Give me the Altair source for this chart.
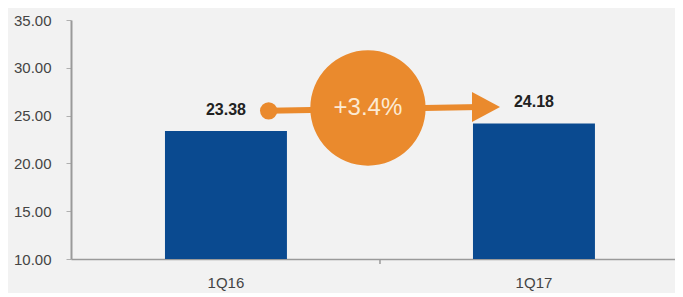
import altair as alt
import pandas as pd

# ---- data ----
quarters = ["1Q16", "1Q17"]
values = [23.38, 24.18]
labels = ["23.38", "24.18"]
y_ticks = [10, 15, 20, 25, 30, 35]
change_text = "+3.4%"
# annotation anchor levels (value-axis units)
arrow_start_y = 25.5
arrow_end_y = 25.9
bubble_y = 25.8

BLUE = "#0A4A90"
ORANGE = "#EA8A2D"
BG = "#F2F2F2"

bars_df = pd.DataFrame({"quarter": quarters, "value": values, "label": labels})
ann_df = pd.DataFrame({
    "from_q": [quarters[0]], "to_q": [quarters[1]],
    "y0": [arrow_start_y], "y1": [arrow_end_y], "yb": [bubble_y],
    "txt": [change_text], "base": [10],
})

xscale = alt.Scale(domain=quarters, paddingInner=0.604, paddingOuter=0.2825, align=0.54)
yscale = alt.Scale(domain=[10, 35], zero=False, nice=False)

x_enc = alt.X("quarter:N", scale=xscale, sort=quarters, title=None,
              axis=alt.Axis(labelAngle=0, labelFontSize=15, labelColor="#444",
                            labelFont="Liberation Sans", labelPadding=16,
                            domainColor="#9A9A9A", domainWidth=1.5, ticks=False))
y_enc = alt.Y("value:Q", scale=yscale, title=None,
              axis=alt.Axis(values=y_ticks, format=".2f", grid=False,
                            labelFontSize=15, labelColor="#444",
                            labelFont="Liberation Sans", labelPadding=15,
                            domainColor="#9A9A9A", domainWidth=2,
                            tickColor="#B0B0B0", tickSize=5))

bars = alt.Chart(bars_df).mark_bar(color=BLUE).encode(
    x=x_enc, y=y_enc, y2=alt.datum(10)
)

mid_tick = alt.Chart(ann_df).mark_rule(color="#9A9A9A", strokeWidth=1.5, xOffset=-93, y2Offset=5).encode(
    x=alt.X("to_q:N", scale=xscale, bandPosition=0),
    y=alt.Y("base:Q", scale=yscale),
    y2="base:Q",
)

value_labels = alt.Chart(bars_df).mark_text(
    fontSize=16, fontWeight="bold", font="Liberation Sans", color="#222",
    baseline="middle", dy=-21
).encode(x=alt.X("quarter:N", scale=xscale, sort=quarters),
         y=alt.Y("value:Q", scale=yscale), text="label:N")

shaft = alt.Chart(ann_df).mark_rule(color=ORANGE, strokeWidth=6).encode(
    x=alt.X("from_q:N", scale=xscale, bandPosition=0.85),
    x2=alt.X2("to_q:N", bandPosition=0.06),
    y=alt.Y("y0:Q", scale=yscale),
    y2="y1:Q",
)

dot = alt.Chart(ann_df).mark_point(
    shape="circle", filled=True, opacity=1, color=ORANGE, size=300
).encode(x=alt.X("from_q:N", scale=xscale, bandPosition=0.85),
         y=alt.Y("y0:Q", scale=yscale))

head = alt.Chart(ann_df).mark_point(
    shape="M-1,-1.07L1,0L-1,1.07Z", filled=True, opacity=1, color=ORANGE, size=784
).encode(x=alt.X("to_q:N", scale=xscale, bandPosition=0.107),
         y=alt.Y("y1:Q", scale=yscale))

bubble = alt.Chart(ann_df).mark_point(
    shape="circle", filled=True, opacity=1, color=ORANGE, size=13300, xOffset=81
).encode(x=alt.X("from_q:N", scale=xscale, bandPosition=1),
         y=alt.Y("yb:Q", scale=yscale))

bubble_text = alt.Chart(ann_df).mark_text(
    fontSize=24, font="Liberation Sans", color="#FCEAD4", baseline="middle",
    align="center", xOffset=81
).encode(x=alt.X("from_q:N", scale=xscale, bandPosition=1),
         y=alt.Y("yb:Q", scale=yscale), text="txt:N")

chart = alt.layer(bars, mid_tick, value_labels, shaft, dot, head, bubble, bubble_text).properties(
    width=604, height=239,
    background=BG,
    padding={"left": 63, "top": 12, "right": 0, "bottom": 34},
    autosize=alt.AutoSizeParams(type="none"),
).configure_view(stroke=None)

chart.save("out.html", embed_options={"renderer": "svg", "actions": False})
